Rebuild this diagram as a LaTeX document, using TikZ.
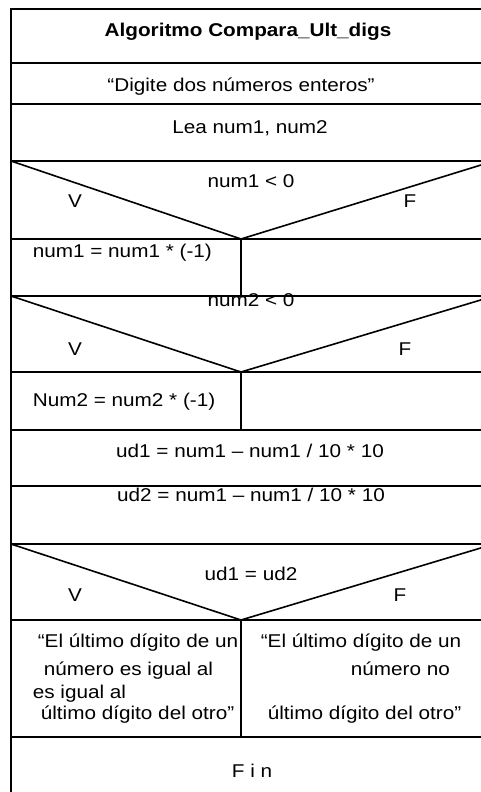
\documentclass[tikz,border=0pt]{standalone}
\usepackage{fontspec}
\setmainfont{Liberation Sans}[FakeStretch=1.12]
\usetikzlibrary{positioning}

\tikzset{
  txt/.style={anchor=base, inner sep=0pt, font=\fontsize{18.5}{22}\selectfont},
  txtl/.style={txt, anchor=base west}
}

\begin{document}
\begin{tikzpicture}[x=1pt, y=-1pt, line width=1.6pt]
  \useasboundingbox (0,0) rectangle (481,792);
  \clip (0,0) rectangle (481,792);
  % frame and rows
  \draw (11,800) -- (11,9) -- (500,9);
  \foreach \y in {63,104,161,239,296,372,430,486,544,620,737}
    \draw (11,\y) -- (500,\y);
  % decisions
  \foreach \t/\b in {161/239,296/372,544/620}
    \draw (11,\t) -- (241,\b) -- (494,\t);
  \foreach \a/\b in {239/296,372/430,620/737}
    \draw (241,\a) -- (241,\b);

  \node[txt, font=\fontsize{18.5}{22}\selectfont\bfseries] (title) at (248,36.5) {Algoritmo Compara\_Ult\_digs};
  \node[txt] (msg) at (241,91) {“Digite dos números enteros”};
  \node[txt] (read) at (250,133.5) {Lea num1, num2};

  \node[txt] (cond1) at (251,187) {num1 < 0};
  \node[txt] (v1) at (75,207) {V};
  \node[txt] (f1) at (410,207) {F};
  \node[txtl] (neg1) at (32,257) {num1 = num1 * (-1)};

  \node[txt] (cond2) at (251,306) {num2 < 0};
  \node[txt] (v2) at (75,355) {V};
  \node[txt] (f2) at (405,355) {F};
  \node[txtl] (neg2) at (32,406) {Num2 = num2 * (-1)};

  \node[txt] (ud1) at (250,457) {ud1 = num1 – num1 / 10 * 10};
  \node[txt] (ud2) at (251,501) {ud2 = num1 – num1 / 10 * 10};

  \node[txt] (cond3) at (251,580) {ud1 = ud2};
  \node[txt] (v3) at (75,601) {V};
  \node[txt] (f3) at (400,601) {F};

  % true branch
  \node[txtl] (eq1) at (37,647) {“El último dígito de un};
  \node[txtl] (eq2) at (43,675) {número es igual al};
  \node[txtl] (eq3) at (32,698) {es igual al};
  \node[txtl] (eq4) at (40,719) {último dígito del otro”};
  % false branch
  \node[txtl] (ne1) at (260,647) {“El último dígito de un};
  \node[txtl] (ne2) at (350,675) {número no};
  \node[txtl] (ne4) at (267,719) {último dígito del otro”};

  \node[txt] (fin) at (252,777) {F i n};
\end{tikzpicture}
\end{document}
